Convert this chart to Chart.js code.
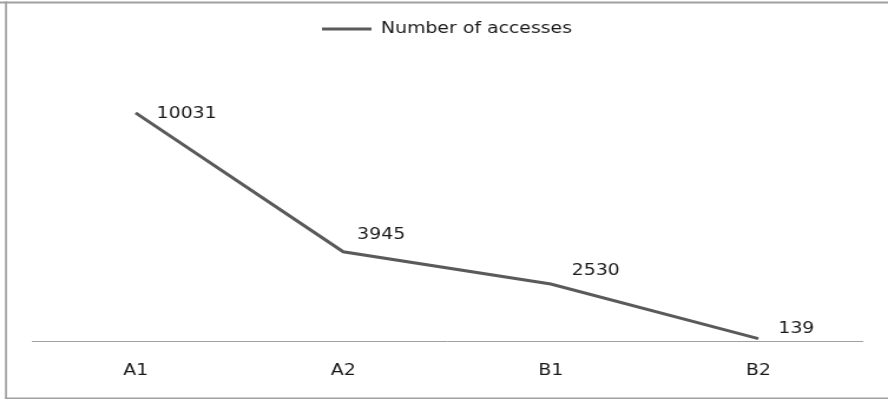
<!DOCTYPE html>
<html>
<head>
<meta charset="utf-8">
<script src="https://cdn.jsdelivr.net/npm/chart.js@4.4.1/dist/chart.umd.min.js"></script>
<style>
  html, body { margin: 0; padding: 0; background: #ffffff; }
  #c { display: block; }
</style>
</head>
<body>
<canvas id="c"></canvas>
<script>
// ---- data ----
const categories = ['A1', 'A2', 'B1', 'B2'];
const accesses = [10031, 3945, 2530, 139];
const seriesName = 'Number of accesses';
const yMax = 12000;

// ---- page geometry (the source picture is horizontally stretched) ----
const PAGE_W = 888, PAGE_H = 401;
const SX = 1.18;                       // horizontal stretch of the original image
const W = Math.round(PAGE_W / SX);

const canvas = document.getElementById('c');
canvas.width = W;
canvas.height = PAGE_H;
canvas.style.width = PAGE_W + 'px';
canvas.style.height = PAGE_H + 'px';

const FONT = { family: '"DejaVu Sans", Verdana, sans-serif', size: 16 };
const TEXT = '#1a1a1a';
const LINE = '#5a5a5a';

const framePlugin = {
  id: 'frame',
  beforeDraw(chart) {
    const ctx = chart.ctx;
    ctx.save();
    ctx.fillStyle = '#ffffff';
    ctx.fillRect(0, 0, chart.width, chart.height);
    ctx.fillStyle = '#a0a0a0';
    ctx.fillRect(0, 1.5, chart.width, 2);             // top
    ctx.fillRect(5 / SX, 1.5, 2 / SX, 397.5);          // left
    ctx.fillRect(5 / SX, 397.5, chart.width, 1.5);     // bottom
    ctx.restore();
  }
};

const legendSpace = {
  id: 'legendSpace',
  beforeInit(chart) {
    const orig = chart.legend.fit;
    chart.legend.fit = function () {
      orig.call(this);
      this.height += 21;
    };
  }
};

const valueLabels = {
  id: 'valueLabels',
  afterDatasetsDraw(chart, args, opts) {
    const ctx = chart.ctx;
    const meta = chart.getDatasetMeta(0);
    const ds = chart.data.datasets[0];
    ctx.save();
    ctx.font = `${FONT.size}px ${FONT.family}`;
    ctx.fillStyle = TEXT;
    ctx.textAlign = 'left';
    ctx.textBaseline = 'middle';
    meta.data.forEach((pt, i) => {
      const off = opts.offsets[i] || [18, -12];
      ctx.fillText(String(ds.data[i]), pt.x + off[0] / SX, pt.y + off[1]);
    });
    ctx.restore();
  }
};

new Chart(canvas, {
  type: 'line',
  data: {
    labels: categories,
    datasets: [{
      label: seriesName,
      data: accesses,
      borderColor: LINE,
      backgroundColor: LINE,
      borderWidth: 3,
      pointRadius: 0,
      pointHoverRadius: 0,
      tension: 0,
      fill: false
    }]
  },
  options: {
    responsive: false,
    animation: false,
    devicePixelRatio: 1,
    layout: { padding: { left: 27, right: W - 731, top: 11, bottom: 2 } },
    plugins: {
      legend: {
        display: true,
        position: 'top',
        align: 'center',
        labels: {
          font: FONT,
          color: TEXT,
          boxWidth: 42,
          boxHeight: 3,
          padding: 10,
          generateLabels(chart) {
            return Chart.defaults.plugins.legend.labels.generateLabels(chart).map(l => ({
              ...l, fillStyle: LINE, strokeStyle: LINE, lineWidth: 0
            }));
          }
        }
      },
      tooltip: { enabled: false },
      valueLabels: { offsets: [[21, 1], [14, -17], [21, -13], [20, -10]] }
    },
    scales: {
      x: {
        offset: true,
        grid: { display: false, drawTicks: false },
        border: { display: true, color: '#a0a0a0', width: 1 },
        ticks: { font: FONT, color: TEXT, padding: 19 }
      },
      y: {
        display: false,
        min: 0,
        max: yMax
      }
    }
  },
  plugins: [framePlugin, legendSpace, valueLabels]
});
</script>
</body>
</html>
